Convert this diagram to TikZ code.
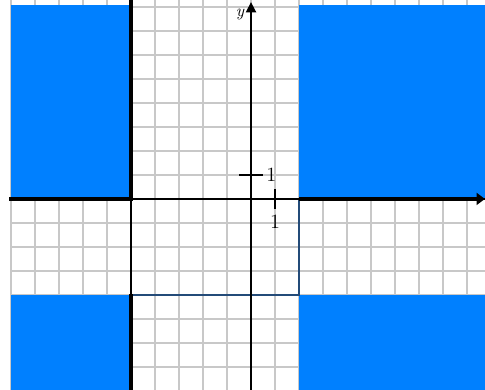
\documentclass[tikz,border=0pt]{standalone}
\usetikzlibrary{arrows.meta}
\definecolor[named]{RegionBlue}{RGB}{0,128,255}
\definecolor[named]{GridGray}{RGB}{200,200,200}
\definecolor[named]{EdgeBlue}{RGB}{35,75,120}
\tikzset{
  gridline/.style={GridGray,line width=1pt},
  region/.style={fill=RegionBlue,draw=none},
  bound/.style={line width=2.8pt,line cap=rect},
  axis/.style={line width=0.9pt},
  ticklabel/.style={inner sep=1pt,font=\large}
}

\begin{document}
\begin{tikzpicture}[x=0.5cm,y=0.5cm]
    \useasboundingbox (-10.46,-7.96) rectangle (9.75,8.29);

    % Corners of the plot window
    \coordinate (BL) at (-10,-7.96);
    \coordinate (TR) at (9.75,8.29);
    \coordinate (O) at (0,0);

    % Grid
    \draw[gridline,step=0.5cm] (BL) grid (TR);

    % Shaded regions
    \fill[region] (-10,0) rectangle (-5,8.08);
    \fill[region] (2,0) rectangle (9.75,8.08);
    \fill[region] (-10,-4) rectangle (-5,-7.96);
    \fill[region] (2,-4) rectangle (9.75,-7.96);

    % Thin boundaries of the white box
    \draw[axis] (-5,0) coordinate (A) -- (-5,-4) coordinate (B);
    \draw[EdgeBlue,line width=0.8pt] (B) -- (2,-4) coordinate (C) -- (2,0) coordinate (D);

    % Axes
    \draw[axis] (-10,0) -- (9.75,0);
    \draw[axis,-{Triangle[length=6pt,width=6pt]}] (0,-7.96) -- (O) -- (0,8.2) coordinate (YT);
    \node[ticklabel,anchor=east,font=\normalsize\itshape] (ylab) at (-0.2,7.7) {y};

    % Thick boundaries
    \draw[bound] (-5,8.29) -- (A);
    \draw[bound] (-5,-4.05) -- (-5,-7.96);
    \draw[bound] (-10,0) -- (A);
    \draw[line width=2.8pt,-{Triangle[length=5pt,width=7pt]}] (D) -- (9.75,0);

    % Ticks
    \draw[axis] (-0.5,1) -- (0.5,1);
    \node[ticklabel] (y1) at (0.85,1) {1};
    \draw[axis] (1,0.4) -- (1,-0.4);
    \node[ticklabel] (x1) at (1,-0.95) {1};
\end{tikzpicture}
\end{document}
